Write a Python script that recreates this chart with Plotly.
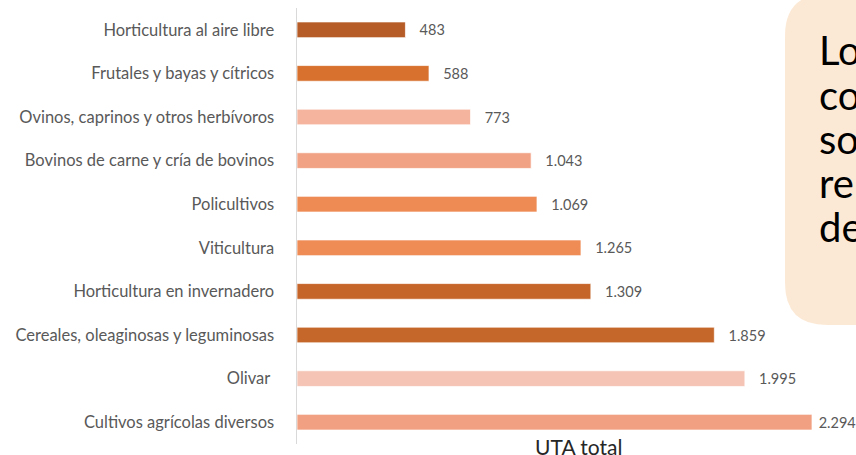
import plotly.graph_objects as go

categories = [
    "Horticultura al aire libre",
    "Frutales y bayas y cítricos",
    "Ovinos, caprinos y otros herbívoros",
    "Bovinos de carne y cría de bovinos",
    "Policultivos",
    "Viticultura",
    "Horticultura en invernadero",
    "Cereales, oleaginosas y leguminosas",
    "Olivar ",
    "Cultivos agrícolas diversos",
]
uta_total = [483, 588, 773, 1043, 1069, 1265, 1309, 1859, 1995, 2294]
bar_colors = ["#B65C27", "#D8712E", "#F4B49E", "#F1A184", "#EE8B55",
              "#EF8C56", "#C6652A", "#C5662A", "#F5C4B5", "#F1A182"]
box_lines = ["Lo", "co", "so", "re", "de"]

W, H = 856, 455
L, T, B = 297, 8, 11
R = 0
pw = W - L - R
ph = H - T - B
XMAX = 2490

def px_x(px):
    return (px - L) / pw

def px_y(py):
    return (H - B - py) / ph

FONT = "Lato, Noto Sans, sans-serif"

# number labels in Spanish format; the longest bar's label is nudged closer so it fits
value_labels = []
vmax = max(uta_total)
for v in uta_total:
    s = f"{v:,}".replace(",", ".")
    pad = " " if v == vmax else "   "
    value_labels.append(pad + s)

fig = go.Figure()
fig.add_trace(go.Bar(
    x=uta_total, y=categories, orientation="h",
    marker=dict(color=bar_colors, line=dict(color="rgba(255,255,255,0.7)", width=1)),
    width=0.36, hoverinfo="skip",
    text=value_labels, textposition="outside", cliponaxis=False,
    constraintext="none",
    outsidetextfont=dict(family=FONT, size=14.5, color="#595959"),
))

# rounded callout box on the right
x0, x1, y0, y1, r = 785, 900, -6, 325, 42
path = (
    f"M {px_x(x0)},{px_y(y0 + r)} "
    f"L {px_x(x0)},{px_y(y1 - r)} "
    f"Q {px_x(x0)},{px_y(y1)} {px_x(x0 + r)},{px_y(y1)} "
    f"L {px_x(x1)},{px_y(y1)} "
    f"L {px_x(x1)},{px_y(y0)} "
    f"L {px_x(x0 + r)},{px_y(y0)} "
    f"Q {px_x(x0)},{px_y(y0)} {px_x(x0)},{px_y(y0 + r)} Z"
)
fig.add_shape(type="path", path=path, xref="paper", yref="paper",
              fillcolor="#FCE9D5", line=dict(width=0), layer="below")

line_y = [50, 95, 139, 183, 227]
for txt, yy in zip(box_lines, line_y):
    fig.add_annotation(text=txt, x=px_x(817), y=px_y(yy), xref="paper", yref="paper",
                       xanchor="left", yanchor="middle", showarrow=False,
                       font=dict(family=FONT, size=40, color="#000000"))

fig.add_annotation(text="UTA total", x=px_x(578), y=px_y(446), xref="paper", yref="paper",
                   xanchor="center", yanchor="middle", showarrow=False,
                   font=dict(family=FONT, size=21, color="#262626"))

fig.update_layout(
    width=W, height=H,
    margin=dict(l=L, r=R, t=T, b=B, pad=0),
    paper_bgcolor="white", plot_bgcolor="white",
    showlegend=False,
    xaxis=dict(range=[0, XMAX], showgrid=False, zeroline=False, showticklabels=False,
               showline=False, fixedrange=True),
    yaxis=dict(autorange="reversed", showgrid=False, zeroline=False,
               showline=True, linecolor="#D9D9D9", linewidth=1.5,
               ticks="", ticklabelstandoff=18, fixedrange=True,
               tickfont=dict(family=FONT, size=16.5, color="#595959")),
)

fig.write_html(
    "out.html",
    config={"displayModeBar": False, "staticPlot": True},
    post_script="document.body.style.margin='0';document.body.style.overflow='hidden';",
)
